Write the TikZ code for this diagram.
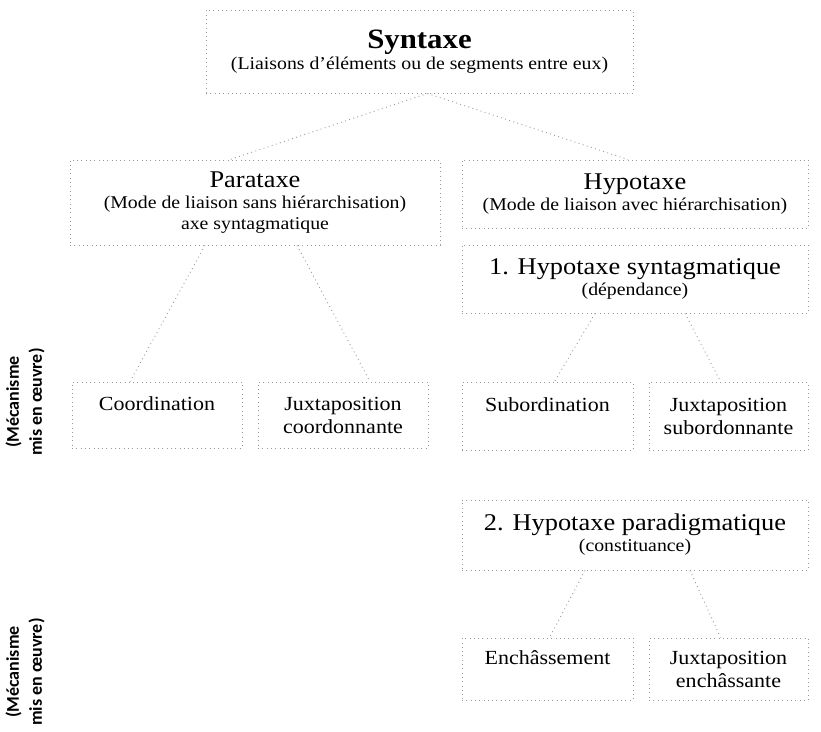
\documentclass[tikz,border=0pt]{standalone}
\usepackage{fontspec}
\setmainfont{Liberation Serif}[FakeStretch=1.1]
\newfontfamily\sidefont{Carlito}
\usetikzlibrary{calc}

\newcommand\bigsize{\fontsize{28}{30}\selectfont}
\newcommand\headsize{\fontsize{24}{26}\selectfont}
\newcommand\subsize{\fontsize{18}{21}\selectfont}
\newcommand\leafsize{\fontsize{20}{23}\selectfont}

\tikzset{
  dotline/.style={draw=gray!80, line width=0.9pt, dash pattern=on 0.9pt off 3.4pt},
  box/.style={dotline, align=center, text=black, inner sep=0pt, font=\subsize},
  leaf/.style={box, font=\leafsize},
  link/.style={dotline},
  side/.style={rotate=90, align=center, text=black, font=\sidefont\bfseries\fontsize{18}{23}\selectfont},
}

\begin{document}
\begin{tikzpicture}[x=1pt,y=-1pt]
    \useasboundingbox (0,0) rectangle (821,731);

    % top of the tree
    \node[box, minimum width=427pt, minimum height=83pt] (syn) at (419.5,51.5)
        {{\bigsize\bfseries Syntaxe}\\ (Liaisons d'éléments ou de segments entre eux)};

    \node[box, minimum width=370pt, minimum height=85pt] (para) at (255,202.5)
        {{\headsize Parataxe}\\ (Mode de liaison sans hiérarchisation)\\ axe syntagmatique};
    \node[box, minimum width=346pt, minimum height=68pt] (hypo) at (635,194)
        {{\headsize Hypotaxe}\\ (Mode de liaison avec hiérarchisation)};

    \node[box, minimum width=346pt, minimum height=68pt] (hsyn) at (635,279)
        {{\headsize 1. Hypotaxe syntagmatique}\\ (dépendance)};
    \node[box, minimum width=346pt, minimum height=70pt] (hpar) at (635,535)
        {{\headsize 2. Hypotaxe paradigmatique}\\ (constituance)};

    % mechanisms
    \node[leaf, minimum width=170pt, minimum height=66pt] (coord) at (157,415)
        {Coordination\\ \mbox{}};
    \node[leaf, minimum width=170pt, minimum height=66pt] (jcoord) at (343,415)
        {Juxtaposition\\ coordonnante};
    \node[leaf, minimum width=171pt, minimum height=68pt] (sub) at (547.5,416)
        {Subordination\\ \mbox{}};
    \node[leaf, minimum width=159pt, minimum height=68pt] (jsub) at (728.5,416)
        {Juxtaposition\\ subordonnante};
    \node[leaf, minimum width=171pt, minimum height=62pt] (ench) at (547.5,669)
        {Enchâssement\\ \mbox{}};
    \node[leaf, minimum width=159pt, minimum height=62pt] (jench) at (728.5,669)
        {Juxtaposition\\ enchâssante};

    \node[side] (mec1) at (25,402) {(Mécanisme\\ mis en œuvre)};
    \node[side] (mec2) at (25,672) {(Mécanisme\\ mis en œuvre)};

    % links
    \draw[link] ($(syn.south)+(8,0)$) -- ($(para.north)+(-25,0)$);
    \draw[link] ($(syn.south)+(8,0)$) -- ($(hypo.north)+(-7,0)$);
    \draw[link] ($(para.south)+(-50,0)$) -- ($(coord.north)+(-27,0)$);
    \draw[link] ($(para.south)+(42,0)$) -- ($(jcoord.north)+(27,0)$);
    \draw[link] ($(hsyn.south)+(-40,0)$) -- ($(sub.north)+(7,0)$);
    \draw[link] ($(hsyn.south)+(50,0)$) -- ($(jsub.north)+(-8,0)$);
    \draw[link] ($(hpar.south)+(-50,0)$) -- ($(ench.north)+(2,0)$);
    \draw[link] ($(hpar.south)+(55,0)$) -- ($(jench.north)+(-8,0)$);
\end{tikzpicture}
\end{document}
